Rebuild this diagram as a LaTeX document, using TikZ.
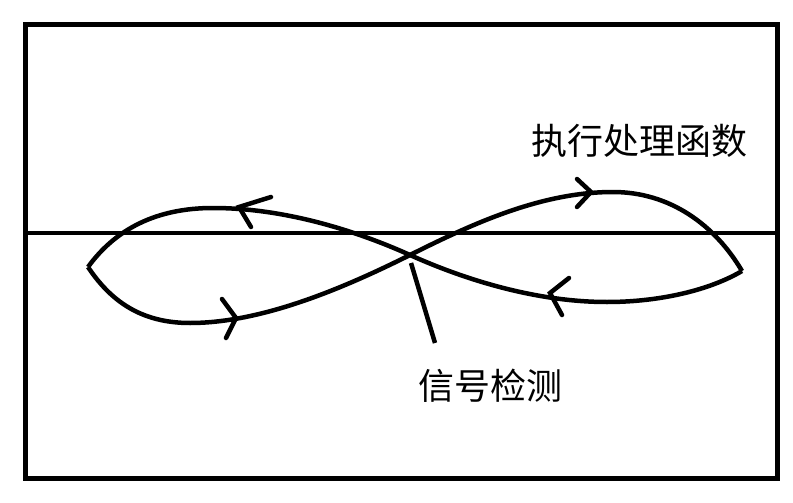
\documentclass[tikz,border=0pt]{standalone}
\usepackage{fontspec}
\newfontfamily\cjk{Noto Sans CJK SC}
\begin{document}
\begin{tikzpicture}[x=1pt,y=-1pt,
  frame/.style={line width=5pt},
  curve/.style={line width=4.5pt,line join=round},
  wing/.style={line width=4.5pt,line cap=round,line join=miter},
  label/.style={font=\cjk\fontsize{36}{40}\selectfont,inner sep=0pt}]
\useasboundingbox (0,0) rectangle (793,503);
\fill[white] (0,0) rectangle (793,503);
% frame and horizontal line
\coordinate (fl) at (25,25);
\coordinate (fr) at (777,478);
\draw[frame] (fl) rectangle (fr);
\coordinate (hl) at (25,233);
\coordinate (hr) at (779,233);
\draw[line width=4.5pt] (hl) -- (hr);
% figure eight
\coordinate (L) at (88,267);
\coordinate (R) at (742,271);
\coordinate (C) at (410,255);
\draw[curve] (L) .. controls (115,230) and (155,208) .. (213,208)
  .. controls (280,208) and (350,228) .. (C)
  .. controls (470,282) and (540,302) .. (607,302)
  .. controls (660,302) and (710,290) .. (R);
\draw[curve] (L) .. controls (110,300) and (140,323) .. (190,323)
  .. controls (260,323) and (340,290) .. (C)
  .. controls (470,225) and (540,192) .. (613,192)
  .. controls (670,192) and (715,225) .. (R);
% arrowheads
\draw[wing] (271,197) -- (239,207) -- (251,227);
\draw[wing] (577,179) -- (591,192) -- (577,207);
\draw[wing] (222,299) -- (236,318) -- (226,338);
\draw[wing] (569,278) -- (550,293) -- (562,315);
% labels
\node[label] (exec) at (639,141) {执行处理函数};
\node[label] (sig) at (490,386) {信号检测};
\coordinate (p1) at (411,263);
\coordinate (p2) at (435,343);
\draw[line width=4.5pt] (p1) -- (p2);
\end{tikzpicture}
\end{document}
